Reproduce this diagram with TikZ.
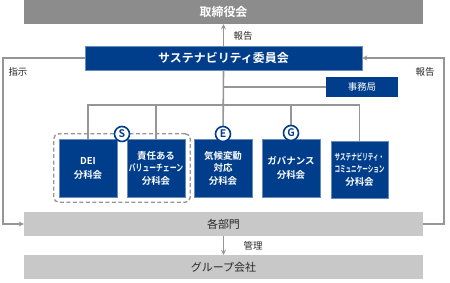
\documentclass[tikz,border=0pt]{standalone}
\usepackage{fontspec}
\setmainfont{Noto Sans CJK JP}[BoldFont={Noto Sans CJK JP Bold}]
\usetikzlibrary{arrows.meta, positioning, fit}
\definecolor{boardgray}{RGB}{140,140,140}
\definecolor{unitgray}{RGB}{200,200,200}
\definecolor{navy}{RGB}{0,62,140}
\definecolor{linegray}{RGB}{150,150,150}
\definecolor{textdark}{RGB}{40,40,40}
\tikzset{
  % Wide gray bars
  topbar/.style={
    rectangle, minimum width=399bp, minimum height=24bp,
    fill=boardgray, text=white, font=\bfseries\fontsize{12}{14}\selectfont
  },
  lowbar/.style={
    rectangle, minimum width=399bp, minimum height=24bp,
    fill=unitgray, text=textdark, font=\fontsize{11}{13}\selectfont
  },
  % Committee
  committee/.style={
    rectangle, minimum width=277bp, minimum height=24bp,
    fill=navy, draw=navy!60!white, line width=0.5pt,
    text=white, font=\bfseries\fontsize{12}{14}\selectfont
  },
  % Sub committees
  subbox/.style={
    rectangle, minimum width=58bp, minimum height=58bp, inner sep=1bp,
    fill=navy, draw=navy!60!white, line width=0.5pt,
    text=white, font=\bfseries\fontsize{9.5}{12.5}\selectfont, align=center
  },
  smallbox/.style={
    rectangle, minimum width=72bp, minimum height=20bp,
    fill=navy, text=white, font=\fontsize{9.5}{11}\selectfont
  },
  % ESG badge
  badge/.style={
    circle, minimum size=15bp, inner sep=0pt, fill=white, draw=navy,
    line width=1.6pt, text=navy, font=\bfseries\fontsize{10.5}{11}\selectfont
  },
  wire/.style={draw=linegray, line width=1.6pt},
  arr/.style={wire, -{Stealth[length=5bp,width=5bp]}},
  sidelabel/.style={text=textdark, font=\fontsize{9.5}{11}\selectfont},
}
\begin{document}
\begin{tikzpicture}[x=1bp, y=-1bp]
  \useasboundingbox (0,0) rectangle (450,282);

  % Main bodies
  \node[topbar] (board) at (223.5,12) {取締役会};
  \node[committee] (comm) at (223.5,58) {サステナビリティ委員会};
  \node[smallbox] (office) at (362,87) {事務局};
  \node[lowbar] (dept) at (223.5,224) {各部門};
  \node[lowbar] (group) at (223.5,267) {グループ会社};

  % Sub committees
  \node[subbox, font=\bfseries\fontsize{9.5}{14}\selectfont] (dei) at (88,168) {DEI\\分科会};
  \node[subbox] (value) at (156,168)
        {責任ある\\{\addfontfeatures{FakeStretch=0.72}バリューチェーン}\\分科会};
  \node[subbox] (climate) at (223,168) {気候変動\\対応\\分科会};
  \node[subbox, font=\bfseries\fontsize{9.5}{14}\selectfont] (gov) at (291,168) {ガバナンス\\分科会};
  \node[subbox, minimum width=57bp, minimum height=57bp] (sccom) at (359.5,169.5)
        {{\fontsize{9}{12.5}\selectfont\addfontfeatures{FakeStretch=0.62}サステナビリティ・}\\
         {\fontsize{9}{12.5}\selectfont\addfontfeatures{FakeStretch=0.62}コミュニケーション}\\分科会};
  \node[draw=linegray, dash pattern=on 4bp off 2.5bp, line width=1.4pt,
        rounded corners=5bp, inner sep=5bp, fit=(dei)(value)] (sgroup) {};

  % Tree
  \coordinate (bus) at (223,105);
  \draw[wire] (comm.south) -- (climate.north);
  \draw[wire] (dei.north) |- (bus) -| (sccom.north);
  \draw[wire] (value.north) -- (value.north |- bus);
  \draw[wire] (gov.north) -- (gov.north |- bus);
  \draw[wire] (comm.south |- office.west) -- (office.west);

  % Badges
  \node[badge] (sbadge) at (122,134) {S};
  \node[badge] (ebadge) at (223,134) {E};
  \node[badge] (gbadge) at (291,133) {G};

  % Reporting lines
  \draw[arr] (comm.north) -- (board.south);
  \node[sidelabel] (rep1) at (243,36) {報告};
  \draw[arr] (comm.west) -- ++(-82,0) |- (dept.west);
  \node[sidelabel] (order) at (18,72) {指示};
  \draw[arr] (dept.east) -- ++(21,0) |- (comm.east);
  \node[sidelabel] (rep2) at (425,72) {報告};
  \draw[arr] (dept.south) -- (group.north);
  \node[sidelabel] (manage) at (253,246) {管理};
\end{tikzpicture}
\end{document}
